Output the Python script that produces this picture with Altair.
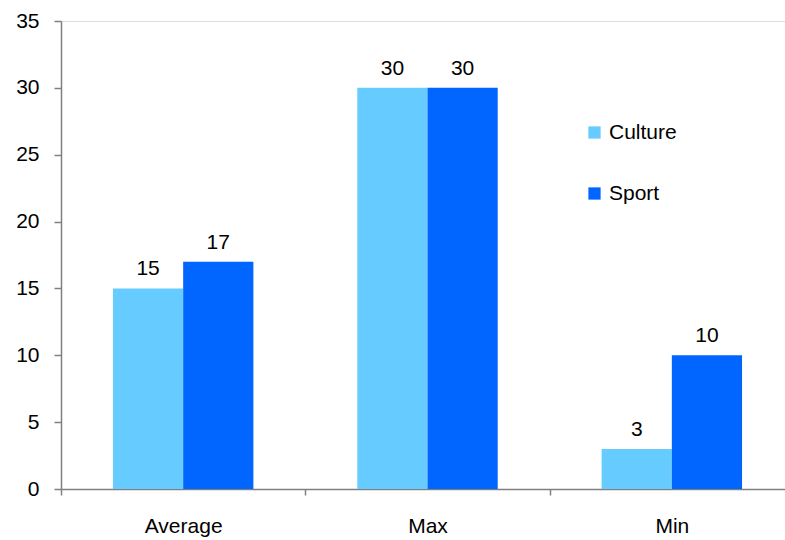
import altair as alt
import pandas as pd

categories = ["Average", "Max", "Min"]
culture = [15, 30, 3]
sport = [17, 30, 10]
series = ["Culture", "Sport"]
colors = ["#66CCFF", "#0066FF"]

rows = []
for i, c in enumerate(categories):
    rows.append({"category": c, "series": "Culture", "value": culture[i]})
    rows.append({"category": c, "series": "Sport", "value": sport[i]})
df = pd.DataFrame(rows)

FONT = "Liberation Sans"
FS = 21

base = alt.Chart(df).encode(
    x=alt.X(
        "category:N",
        sort=categories,
        # the last band runs a little past the right edge of the view
        scale=alt.Scale(range=[0, 733], paddingInner=0, paddingOuter=0),
        axis=alt.Axis(
            title=None, labelAngle=0, tickBand="extent", labelPadding=20,
            labelFontSize=FS, labelFont=FONT, labelColor="#000000",
            domainColor="#808080", tickColor="#808080", tickSize=6,
            domainWidth=1.5, tickWidth=1.5,
        ),
    ),
    xOffset=alt.XOffset(
        "series:N", sort=series,
        scale=alt.Scale(paddingInner=0, paddingOuter=0.74),
    ),
    y=alt.Y(
        "value:Q",
        scale=alt.Scale(domain=[0, 35], nice=False),
        axis=alt.Axis(
            title=None, values=list(range(0, 36, 5)), grid=False,
            labelFontSize=FS, labelFont=FONT, labelColor="#000000",
            labelPadding=15,
            domainColor="#808080", tickColor="#808080", tickSize=7,
            domainWidth=1.5, tickWidth=1.5,
        ),
    ),
)

bars = base.mark_bar(opacity=1).encode(
    color=alt.Color(
        "series:N",
        sort=series,
        scale=alt.Scale(domain=series, range=colors),
        legend=alt.Legend(
            title=None, orient="none", legendX=523, legendY=101,
            symbolType="square", symbolSize=150, symbolStrokeWidth=0,
            labelFontSize=FS, labelFont=FONT, labelColor="#000000",
            rowPadding=39, labelOffset=4,
        ),
    )
)

labels = base.mark_text(
    baseline="alphabetic", dy=-13, fontSize=FS, font=FONT, color="#000000"
).encode(text=alt.Text("value:Q"))

chart = (
    alt.layer(bars, labels)
    .properties(
        width=724, height=468,
        autosize=alt.AutoSizeParams(type="none"),
        padding={"left": 61, "top": 21, "right": 0, "bottom": 51},
    )
    .configure_view(strokeWidth=0, stroke="transparent")
    .configure(background="#FFFFFF")
)

chart.save("out.html", embed_options={"renderer": "svg", "actions": False})
